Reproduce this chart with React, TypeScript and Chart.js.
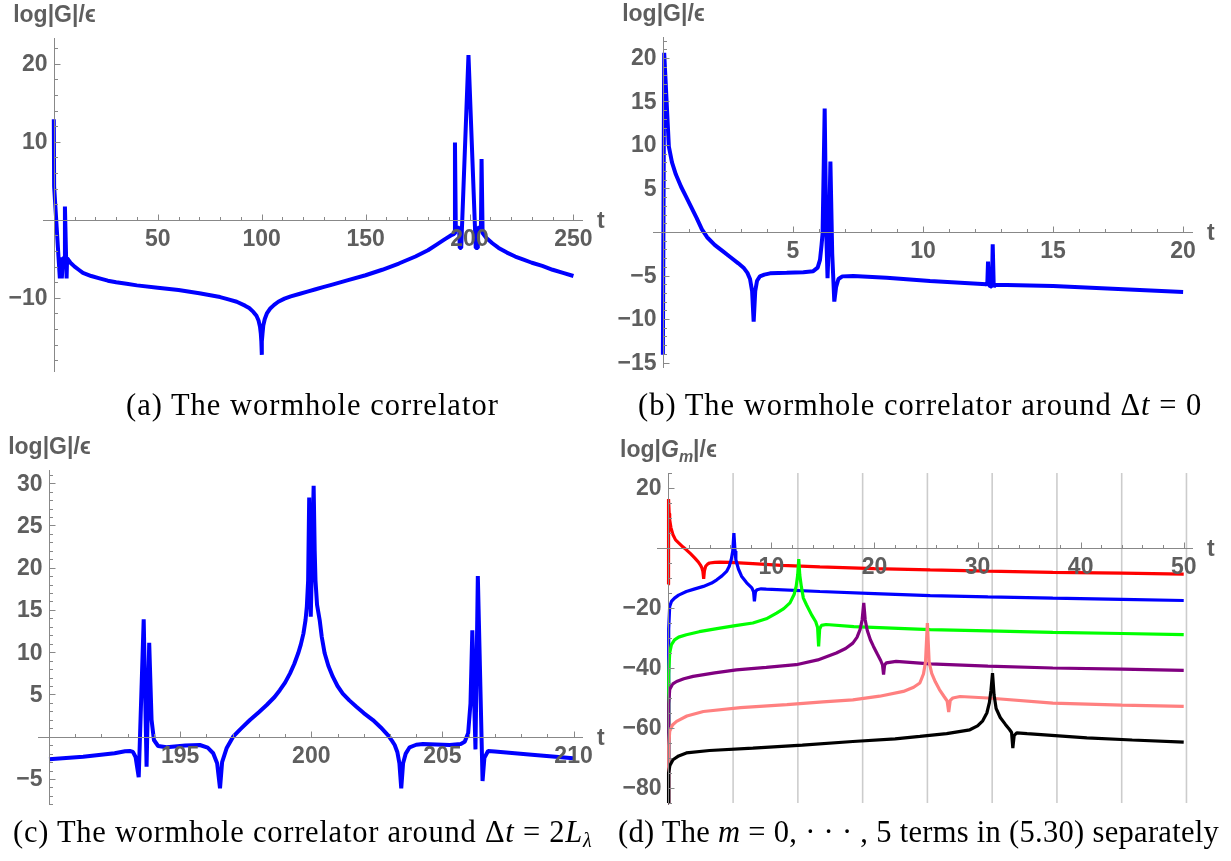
import React, { useEffect, useRef } from "react";
import { Chart, registerables } from "chart.js";

Chart.register(...registerables);

// ---------- Panel (a): the wormhole correlator ----------
const tA = [0.0, 0.15, 2.9, 3.35, 3.85, 4.4, 5.2, 5.35, 6.15, 6.4, 8, 10, 12, 14, 18, 22, 26, 30, 35, 40, 50, 60, 70, 76, 80, 84, 88, 92, 94, 96, 97.5, 98.5, 99.2, 99.6, 99.85, 100, 100.15, 100.4, 100.8, 101.5, 102.5, 104, 106, 108, 111, 114, 118, 122, 126, 130, 134, 142, 150, 158, 166, 174, 180, 184, 188, 191, 192.6, 193.0, 193.4, 195.0, 195.3, 196.0, 199.5, 203.0, 203.7, 204.0, 205.5, 205.8, 206.3, 208, 211, 214, 218, 222, 226, 230, 235, 240, 245, 250];
const gA = [12.9, 4.3, -7.5, -4.8, -7.5, -4.9, -4.9, 1.7, -7.5, -4.9, -5.5, -6.0, -6.4, -6.8, -7.2, -7.5, -7.8, -8.0, -8.2, -8.4, -8.7, -9.0, -9.4, -9.7, -9.9, -10.2, -10.5, -11.0, -11.3, -11.8, -12.3, -12.9, -13.7, -14.6, -15.6, -17.3, -15.6, -14.6, -13.5, -12.7, -12.0, -11.4, -10.9, -10.5, -10.1, -9.8, -9.5, -9.2, -8.9, -8.6, -8.3, -7.7, -7.1, -6.4, -5.6, -4.7, -3.9, -3.2, -2.5, -2.0, -1.8, 9.9, -1.0, -1.0, -3.6, -3.6, 21.1, -3.6, -3.6, -1.0, -1.0, 7.8, -1.7, -2.3, -3.0, -3.6, -4.2, -4.7, -5.1, -5.5, -5.9, -6.4, -6.8, -7.2];
const xLabelsA = [50, 100, 150, 200, 250];
const yLabelsA = [-10, 10, 20];

// ---------- Panel (b): around Δt = 0 ----------
const tB = [0.0, 0.05, 0.23, 0.35, 0.5, 0.7, 0.9, 1.1, 1.3, 1.5, 1.7, 2.0, 2.3, 2.6, 2.9, 3.1, 3.25, 3.35, 3.43, 3.49, 3.55, 3.62, 3.73, 3.9, 4.12, 4.76, 5.4, 5.78, 5.95, 6.04, 6.1, 6.14, 6.22, 6.28, 6.33, 6.39, 6.44, 6.51, 6.59, 6.66, 6.75, 6.9, 7.32, 8.6, 10.27, 12.44, 12.47, 12.5, 12.54, 12.65, 12.68, 12.72, 12.78, 15.0, 17.5, 20.0];
const gB = [-14.1, 20.6, 9.8, 8.0, 6.6, 5.2, 4.0, 2.8, 1.6, 0.3, -0.6, -1.5, -2.2, -2.9, -3.6, -4.1, -4.7, -5.4, -6.8, -10.3, -6.8, -5.6, -5.1, -4.9, -4.75, -4.69, -4.62, -4.5, -4.1, -3.2, -1.5, -0.15, 14.2, 0, -5.3, -0.15, 8.1, -2.5, -8.0, -6.3, -5.4, -5.1, -5.06, -5.25, -5.63, -6.0, -6.15, -3.4, -6.15, -6.3, -1.4, -6.3, -6.05, -6.2, -6.55, -6.9];
const xLabelsB = [5, 10, 15, 20];
const yLabelsB = [20, 15, 10, 5, -5, -10, -15];

// ---------- Panel (c): around Δt = 2Lλ ----------
const tC = [190.0, 191.3, 192.5, 192.9, 193.08, 193.2, 193.3, 193.42, 193.61, 193.72, 193.82, 193.91, 194.0, 194.16, 194.48, 195.2, 195.75, 196.05, 196.26, 196.41, 196.52, 196.6, 196.77, 197.02, 197.3, 197.66, 198.0, 198.3, 198.6, 198.8, 199.0, 199.19, 199.35, 199.5, 199.6, 199.7, 199.78, 199.83, 199.88, 199.92, 199.98, 200.09, 200.13, 200.16, 200.22, 200.32, 200.4, 200.51, 200.65, 200.82, 201.0, 201.2, 201.45, 201.72, 202.0, 202.35, 202.65, 202.92, 203.08, 203.18, 203.28, 203.36, 203.43, 203.5, 203.6, 203.75, 204.0, 204.26, 205.28, 205.7, 205.85, 205.98, 206.07, 206.14, 206.26, 206.35, 206.53, 206.6, 206.74, 207.0, 208.3, 209.98];
const gC = [-2.68, -2.37, -1.95, -1.72, -1.69, -1.8, -2.4, -4.8, 13.9, -3.55, 11.1, 2.0, -0.39, -1.1, -1.25, -1.05, -0.98, -1.3, -1.96, -3.15, -6.1, -3.0, -1.37, 0.0, 0.9, 1.97, 2.9, 3.75, 4.7, 5.5, 6.4, 7.5, 8.6, 9.87, 10.9, 12.2, 13.8, 15.4, 18.5, 28.3, 14.2, 29.7, 22.0, 18.5, 15.6, 13.8, 11.8, 9.87, 8.4, 7.1, 6.0, 5.1, 4.3, 3.55, 2.8, 1.97, 1.1, 0.2, -0.5, -0.98, -1.8, -3.15, -6.1, -3.15, -2.0, -1.25, -0.95, -0.86, -0.98, -0.85, -0.6, 0.4, 3.95, 12.6, -1.5, 19.0, -5.24, -2.5, -1.69, -1.75, -2.1, -2.56];
const xLabelsC = [195, 200, 205, 210];
const yLabelsC = [30, 25, 20, 15, 10, 5, -5];

// ---------- Panel (d): m = 0..5 terms ----------
const tD0 = [0.0, 0.02, 0.08, 0.13, 0.25, 0.45, 0.7, 1.1, 1.4, 1.75, 2.15, 2.55, 2.9, 3.1, 3.25, 3.35, 3.43, 3.5, 3.62, 3.8, 4.0, 4.5, 4.98, 6.0, 8.2, 11.0, 14.7, 20.0, 25.4, 31.0, 37.3, 44.0, 50.0];
const gD0 = [-12.2, 16.3, 11.5, 9.4, 6.8, 4.4, 2.7, 1.4, 0.4, -0.6, -1.9, -3.3, -4.6, -5.6, -6.6, -7.8, -10.3, -7.6, -6.1, -5.4, -5.0, -4.8, -4.7, -4.8, -5.2, -5.8, -6.3, -6.9, -7.3, -7.7, -8.1, -8.4, -8.7];
const tD1 = [0.0, 0.02, 0.05, 0.13, 0.3, 0.6, 1.0, 1.75, 2.5, 3.4, 4.2, 4.7, 5.2, 5.65, 5.9, 6.1, 6.25, 6.36, 6.47, 6.55, 6.8, 7.1, 7.6, 8.1, 8.27, 8.35, 8.45, 8.6, 9.0, 9.5, 14.7, 20.0, 25.4, 31.0, 37.3, 44.0, 50.0];
const gD1 = [-85, -40, -27, -19.5, -17.8, -16.7, -15.7, -14.5, -13.7, -12.8, -11.7, -10.6, -9.3, -7.8, -6.2, -3.9, -1.0, 5.0, -1.0, -3.9, -7.0, -9.4, -11.6, -13.3, -14.6, -17.8, -14.6, -13.9, -13.6, -13.7, -14.5, -15.2, -15.9, -16.3, -16.7, -17.1, -17.5];
const tD2 = [0.0, 0.02, 0.05, 0.13, 0.3, 0.6, 1.0, 1.75, 3.0, 5.0, 6.5, 8.2, 9.5, 10.5, 11.2, 11.8, 12.2, 12.4, 12.55, 12.65, 12.75, 12.9, 13.1, 13.4, 13.9, 14.3, 14.48, 14.58, 14.68, 14.85, 15.3, 18.0, 25.4, 31.0, 37.3, 44.0, 50.0];
const gD2 = [-85, -55, -42, -35, -32.2, -30.6, -29.7, -28.9, -27.9, -26.7, -25.9, -25.0, -23.6, -21.7, -20.2, -18.3, -15.5, -12.8, -9.0, -3.7, -9.0, -12.8, -16.7, -18.9, -22.3, -24.6, -26.5, -32.8, -27.0, -25.8, -25.5, -26.2, -27.2, -27.6, -28.1, -28.5, -28.9];
const tD3 = [0.0, 0.02, 0.06, 0.13, 0.4, 0.8, 1.5, 2.4, 4.5, 6.6, 9.5, 12.4, 14.5, 16.3, 17.2, 17.9, 18.3, 18.6, 18.8, 18.96, 19.1, 19.3, 19.6, 19.9, 20.3, 20.6, 20.78, 20.88, 20.98, 21.15, 22.1, 25.4, 31.0, 37.3, 44.0, 50.0];
const gD3 = [-85, -62, -52, -47.2, -45.4, -44.5, -43.6, -42.8, -41.6, -40.6, -39.8, -38.9, -37.3, -35.0, -33.5, -31.7, -29.8, -27.2, -24.0, -18.3, -24.0, -27.5, -30.6, -32.8, -35.5, -37.5, -39.0, -42.2, -39.0, -38.3, -37.8, -38.6, -39.4, -40.0, -40.4, -40.8];
const tD4 = [0.0, 0.02, 0.06, 0.13, 0.4, 0.8, 1.8, 3.4, 7.0, 11.5, 15.0, 17.9, 20.5, 22.8, 23.8, 24.4, 24.75, 24.95, 25.13, 25.3, 25.55, 25.9, 26.3, 26.75, 27.05, 27.2, 27.35, 27.6, 28.3, 31.0, 37.3, 44.0, 50.0];
const gD4 = [-85, -74, -66, -61.1, -59.0, -57.8, -56.0, -54.5, -53.2, -52.2, -51.3, -50.6, -49.4, -47.8, -46.4, -45.0, -42.0, -38.0, -25.0, -38.0, -41.8, -44.6, -47.2, -49.5, -51.0, -54.7, -50.8, -50.0, -49.5, -50.0, -51.7, -52.4, -52.8];
const tD5 = [0.0, 0.015, 0.03, 0.15, 0.45, 1.0, 1.75, 4.0, 8.2, 13.0, 17.9, 22.0, 24.4, 27.0, 29.25, 30.0, 30.5, 30.9, 31.15, 31.3, 31.45, 31.6, 31.8, 32.2, 32.7, 33.1, 33.3, 33.42, 33.55, 33.8, 34.8, 40.6, 45.0, 50.0];
const gD5 = [-85, -79, -75, -72.5, -70.6, -69.3, -68.3, -67.5, -66.7, -65.7, -64.5, -63.6, -62.8, -61.9, -60.6, -59.3, -57.6, -55.0, -51.5, -47.5, -41.7, -49.0, -53.5, -56.5, -58.8, -60.5, -61.5, -66.7, -62.5, -61.6, -61.9, -63.3, -64.0, -64.7];
const colorsD = ["#ff0000", "#0000ff", "#00ff00", "#800080", "#ff8080", "#000000"];
const gridD = [6.283, 12.566, 18.850, 25.133, 31.416, 37.699, 43.982, 50.265];
const xLabelsD = [10, 20, 30, 40, 50];
const yLabelsD = [20, -20, -40, -60, -80];

// ---------- styling ----------
const AXIS_COLOR = "#888888";
const LABEL_COLOR = "#5e5e5e";
const TICK_FONT = 'bold 23px "Liberation Sans", Arial, "DejaVu Sans", sans-serif';
const TITLE_FONT = 'bold 23px "Liberation Sans", Arial, "DejaVu Sans", sans-serif';
const TITLE_IT = 'italic bold 23px "Liberation Sans", Arial, "DejaVu Sans", sans-serif';
const SUB_IT = 'italic bold 16px "Liberation Sans", Arial, "DejaVu Sans", sans-serif';

type TitlePart = { text: string; font: string; dy?: number };
type Series = { t: number[]; g: number[]; color: string; width: number; order?: number };
type AxisSpec = {
  xMin: number; xMax: number; yMin: number; yMax: number; xOrigin: number;
  xMinor: number; xMajor: number; yMinor: number; yMajor: number;
  xLabels: number[]; yLabels: number[]; title: TitlePart[]; grid?: number[];
  pad: { left: number; right: number; top: number; bottom: number };
};

const titleG: TitlePart[] = [{ text: "log|G|/\u03F5", font: TITLE_FONT }];
const titleGm: TitlePart[] = [
  { text: "log|", font: TITLE_FONT },
  { text: "G", font: TITLE_IT },
  { text: "m", font: SUB_IT, dy: 5 },
  { text: "|/\u03F5", font: TITLE_FONT },
];

function fmt(v: number) {
  return v < 0 ? "\u2212" + Math.abs(v) : String(v);
}
function isMult(v: number, step: number) {
  const r = v / step;
  return Math.abs(r - Math.round(r)) < 1e-6;
}

function axesPlugin(spec: AxisSpec) {
  return {
    id: "mmaAxes",
    beforeDatasetsDraw(chart: any) {
      if (!spec.grid) return;
      const { ctx, chartArea: ca, scales } = chart;
      ctx.save();
      ctx.strokeStyle = "rgba(0,0,0,0.2)";
      ctx.lineWidth = 1.6;
      for (const g of spec.grid) {
        const px = scales.x.getPixelForValue(g);
        ctx.beginPath();
        ctx.moveTo(px, ca.top);
        ctx.lineTo(px, ca.bottom);
        ctx.stroke();
      }
      ctx.restore();
    },
    afterDatasetsDraw(chart: any) {
      const { ctx, chartArea: ca, scales } = chart;
      const xs = scales.x;
      const ys = scales.y;
      const x0 = Math.round(xs.getPixelForValue(spec.xOrigin)) + 0.5;
      const y0 = Math.round(ys.getPixelForValue(0)) + 0.5;
      ctx.save();
      ctx.strokeStyle = AXIS_COLOR;
      ctx.lineWidth = 1;
      ctx.beginPath();
      ctx.moveTo(ca.left, y0);
      ctx.lineTo(ca.right, y0);
      ctx.moveTo(x0, ca.top);
      ctx.lineTo(x0, ca.bottom);
      for (let k = Math.ceil(spec.xMin / spec.xMinor); k * spec.xMinor <= spec.xMax + 1e-9; k++) {
        const v = Math.round(k * spec.xMinor * 1e6) / 1e6;
        if (Math.abs(v - spec.xOrigin) < 1e-9) continue;
        const px = Math.round(xs.getPixelForValue(v)) + 0.5;
        const len = isMult(v, spec.xMajor) ? 6 : 3.5;
        ctx.moveTo(px, y0);
        ctx.lineTo(px, y0 - len);
      }
      for (let k = Math.ceil(spec.yMin / spec.yMinor); k * spec.yMinor <= spec.yMax + 1e-9; k++) {
        const v = Math.round(k * spec.yMinor * 1e6) / 1e6;
        if (Math.abs(v) < 1e-9) continue;
        const py = Math.round(ys.getPixelForValue(v)) + 0.5;
        const len = isMult(v, spec.yMajor) ? 6 : 3.5;
        ctx.moveTo(x0, py);
        ctx.lineTo(x0 + len, py);
      }
      ctx.stroke();

      ctx.fillStyle = LABEL_COLOR;
      ctx.font = TICK_FONT;
      ctx.textAlign = "center";
      ctx.textBaseline = "middle";
      for (const v of spec.xLabels) {
        ctx.fillText(fmt(v), xs.getPixelForValue(v), y0 + 19);
      }
      ctx.textAlign = "right";
      for (const v of spec.yLabels) {
        ctx.fillText(fmt(v), x0 - 7, ys.getPixelForValue(v) + 1);
      }
      ctx.textAlign = "left";
      ctx.font = 'bold 23px "Liberation Sans", Arial, sans-serif';
      ctx.fillText("t", ca.right + 14, y0 + 1);

      ctx.textBaseline = "alphabetic";
      let total = 0;
      for (const p of spec.title) {
        ctx.font = p.font;
        total += ctx.measureText(p.text).width;
      }
      let cx = x0 - total / 2;
      const base = ca.top - 16;
      for (const p of spec.title) {
        ctx.font = p.font;
        ctx.fillText(p.text, cx, base + (p.dy || 0));
        cx += ctx.measureText(p.text).width;
      }
      ctx.restore();
    },
  };
}

function Panel(props: { spec: AxisSpec; series: Series[]; left: number; top: number; width: number; height: number }) {
  const { spec, series, left, top, width, height } = props;
  const ref = useRef<HTMLCanvasElement>(null);
  useEffect(() => {
    const chart = new Chart(ref.current as HTMLCanvasElement, {
      type: "line",
      data: {
        datasets: series.map((s) => ({
          data: s.t.map((t, j) => ({ x: t, y: s.g[j] })),
          borderColor: s.color,
          borderWidth: s.width,
          pointRadius: 0,
          fill: false,
          tension: 0,
          borderJoinStyle: "bevel",
          clip: 12,
          order: s.order ?? 0,
        })),
      } as any,
      options: {
        responsive: false,
        animation: false,
        events: [],
        layout: { padding: spec.pad },
        plugins: { legend: { display: false }, tooltip: { enabled: false } },
        scales: {
          x: { type: "linear", display: false, min: spec.xMin, max: spec.xMax },
          y: { type: "linear", display: false, min: spec.yMin, max: spec.yMax },
        },
      } as any,
      plugins: [axesPlugin(spec) as any],
    });
    return () => chart.destroy();
  }, []);
  return (
    <canvas
      ref={ref}
      width={width}
      height={height}
      style={{ position: "absolute", left, top, width, height }}
    />
  );
}

const specA: AxisSpec = {
  xMin: -5.2, xMax: 254.6, yMin: -19.5, yMax: 23.3, xOrigin: 0,
  xMinor: 10, xMajor: 50, yMinor: 2, yMajor: 10,
  xLabels: xLabelsA, yLabels: yLabelsA, title: titleG,
  pad: { left: 43, right: 32, top: 38, bottom: 18 },
};
const specB: AxisSpec = {
  xMin: -0.38, xMax: 20.38, yMin: -15.63, yMax: 22.41, xOrigin: 0,
  xMinor: 1, xMajor: 5, yMinor: 1, yMajor: 5,
  xLabels: xLabelsB, yLabels: yLabelsB, title: titleG,
  pad: { left: 38, right: 38, top: 37, bottom: 22 },
};
const specC: AxisSpec = {
  xMin: 189.58, xMax: 210.36, yMin: -8.08, yMax: 31.56, xOrigin: 190,
  xMinor: 1, xMajor: 5, yMinor: 1, yMajor: 5,
  xLabels: xLabelsC, yLabels: yLabelsC, title: titleG,
  pad: { left: 38, right: 32, top: 40, bottom: 15 },
};
const specD: AxisSpec = {
  xMin: -1.1, xMax: 50.9, yMin: -85, yMax: 25, xOrigin: 0,
  xMinor: 2, xMajor: 10, yMinor: 5, yMajor: 20,
  xLabels: xLabelsD, yLabels: yLabelsD, title: titleGm, grid: gridD,
  pad: { left: 42, right: 38, top: 43, bottom: 17 },
};

const BLUE = "#0000ff";
const seriesA: Series[] = [{ t: tA, g: gA, color: BLUE, width: 4 }];
const seriesB: Series[] = [{ t: tB, g: gB, color: BLUE, width: 4 }];
const seriesC: Series[] = [{ t: tC, g: gC, color: BLUE, width: 4 }];
const tDs = [tD0, tD1, tD2, tD3, tD4, tD5];
const gDs = [gD0, gD1, gD2, gD3, gD4, gD5];
const seriesD: Series[] = tDs.map((t, m) => ({ t, g: gDs[m], color: colorsD[m], width: 3.2, order: 5 - m }));

const capStyle: React.CSSProperties = {
  position: "absolute",
  fontFamily: '"Liberation Serif", "Times New Roman", serif',
  fontSize: 30.5,
  lineHeight: "30px",
  letterSpacing: "1px",
  color: "#000",
  whiteSpace: "nowrap",
};

export default function App() {
  return (
    <div style={{ position: "absolute", left: 0, top: 0, width: 1231, height: 861, background: "#fff", overflow: "hidden" }}>
      <Panel spec={specA} series={seriesA} left={0} top={0} width={615} height={390} />
      <Panel spec={specB} series={seriesB} left={615} top={0} width={616} height={390} />
      <Panel spec={specC} series={seriesC} left={0} top={430} width={615} height={390} />
      <Panel spec={specD} series={seriesD} left={615} top={430} width={616} height={390} />
      <div style={{ ...capStyle, left: 126, top: 390 }}>(a) The wormhole correlator</div>
      <div style={{ ...capStyle, left: 638, top: 390 }}>
        (b) The wormhole correlator around Δ<i>t</i> = 0
      </div>
      <div style={{ ...capStyle, left: 13, top: 817, letterSpacing: "0.75px" }}>
        (c) The wormhole correlator around Δ<i>t</i> = 2<i>L</i>
        <sub style={{ fontSize: 20, verticalAlign: "-5px", fontStyle: "italic", letterSpacing: 0 }}>λ</sub>
      </div>
      <div style={{ ...capStyle, left: 618, top: 817, letterSpacing: "0.3px" }}>
        (d) The <i>m</i> = 0, · · · , 5 terms in (5.30) separately
      </div>
    </div>
  );
}
